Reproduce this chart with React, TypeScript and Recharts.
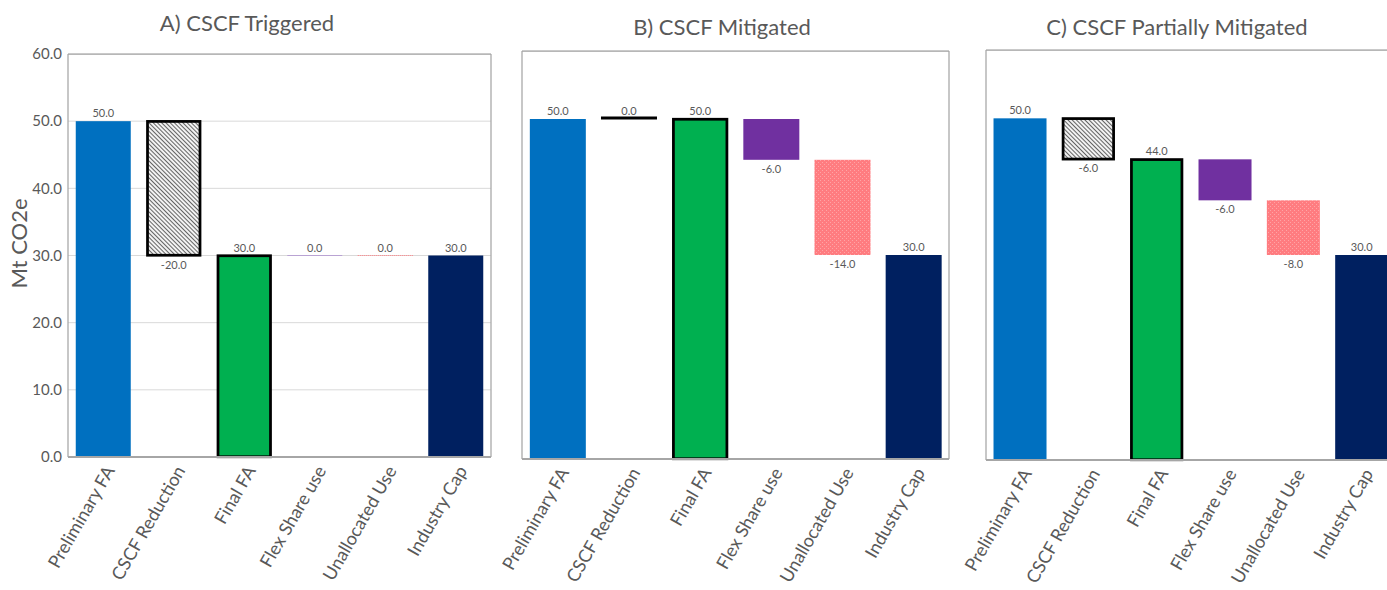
import { BarChart, Bar, XAxis, YAxis, CartesianGrid } from 'recharts';

// Waterfall steps shared by all three panels
const categories = [
  'Preliminary FA',
  'CSCF Reduction',
  'Final FA',
  'Flex Share use',
  'Unallocated Use',
  'Industry Cap',
];
// true = bar drawn from zero (a total), false = floating step
const isTotal = [true, false, true, false, false, true];

const triggeredValues = [50, -20, 30, 0, 0, 30];
const mitigatedValues = [50, 0, 50, -6, -14, 30];
const partialValues = [50, -6, 44, -6, -8, 30];

const yTicks = [0, 10, 20, 30, 40, 50, 60];

const TEXT = '#595959';
const FONT = 'Lato, "Open Sans", sans-serif';

interface BarStyle {
  fill: string; // colour or pattern key
  stroke?: string;
  zeroStroke: string;
  zeroWidth: number;
  zeroDash?: string;
}

const barStyles: Record<string, BarStyle> = {
  'Preliminary FA': { fill: '#0070C0', zeroStroke: '#0070C0', zeroWidth: 1 },
  'CSCF Reduction': { fill: 'hatch', stroke: '#000000', zeroStroke: '#000000', zeroWidth: 3 },
  'Final FA': { fill: '#00B050', stroke: '#000000', zeroStroke: '#000000', zeroWidth: 3 },
  'Flex Share use': { fill: '#7030A0', zeroStroke: '#B9A3D3', zeroWidth: 1 },
  'Unallocated Use': { fill: 'dots', zeroStroke: '#FF7C80', zeroWidth: 1, zeroDash: '1 1' },
  'Industry Cap': { fill: '#002060', zeroStroke: '#002060', zeroWidth: 1 },
};

interface Row {
  name: string;
  value: number;
  range: [number, number];
}

// turn deltas into [low, high] ranges for the floating bars
function buildRows(values: number[]): Row[] {
  let running = 0;
  return values.map((v, i) => {
    let range: [number, number];
    if (isTotal[i]) {
      running = v;
      range = [0, v];
    } else {
      const next = running + v;
      range = [Math.min(running, next), Math.max(running, next)];
      running = next;
    }
    return { name: categories[i], value: v, range };
  });
}

function makeShape(panelId: string) {
  return (props: any) => {
    const { x, width, payload } = props;
    const y = Math.min(props.y, props.y + props.height);
    const h = Math.abs(props.height);
    const st = barStyles[payload.name];
    const fill =
      st.fill === 'hatch' ? `url(#hatch-${panelId})` : st.fill === 'dots' ? `url(#dots-${panelId})` : st.fill;
    const label = payload.value.toFixed(1);
    const cx = x + width / 2;
    const labelY = payload.value < 0 ? y + h + 13 : y - 4;

    let mark;
    if (h < 0.5) {
      mark = (
        <line
          x1={x}
          x2={x + width}
          y1={y - st.zeroWidth / 2 + 0.5}
          y2={y - st.zeroWidth / 2 + 0.5}
          stroke={st.zeroStroke}
          strokeWidth={st.zeroWidth}
          strokeDasharray={st.zeroDash}
        />
      );
    } else if (st.stroke) {
      mark = (
        <rect
          x={x + 1.25}
          y={y + 0.25}
          width={width - 2.5}
          height={h - 0.5}
          fill={fill}
          stroke={st.stroke}
          strokeWidth={2.75}
        />
      );
    } else {
      mark = <rect x={x} y={y} width={width} height={h} fill={fill} />;
    }

    return (
      <g>
        {mark}
        <text x={cx} y={labelY} textAnchor="middle" fontSize={11} fill={TEXT} fontFamily={FONT}>
          {label}
        </text>
      </g>
    );
  };
}

const CategoryTick = ({ x, y, payload }: any) => {
  const ax = x + 6;
  const ay = y + 2;
  return (
    <text
      x={ax}
      y={ay}
      transform={`rotate(-60, ${ax}, ${ay})`}
      textAnchor="end"
      dominantBaseline="central"
      fontSize={18}
      fill={TEXT}
      fontFamily={FONT}
    >
      {payload.value}
    </text>
  );
};

interface PanelProps {
  id: string;
  values: number[];
  width: number;
  margin: { top: number; right: number; bottom: number; left: number };
  showYTicks: boolean;
}

function WaterfallPanel({ id, values, width, margin, showYTicks }: PanelProps) {
  const rows = buildRows(values);
  return (
    <BarChart width={width} height={590} data={rows} margin={margin} barCategoryGap="11%">
      <defs>
        <pattern
          id={`hatch-${id}`}
          patternUnits="userSpaceOnUse"
          width={3}
          height={3}
          patternTransform="rotate(-45)"
        >
          <rect width={3} height={3} fill="#F2F2F2" />
          <line x1={0} y1={0} x2={0} y2={3} stroke="#404040" strokeWidth={1.6} />
        </pattern>
        <pattern id={`dots-${id}`} patternUnits="userSpaceOnUse" width={4} height={4}>
          <rect width={4} height={4} fill="#FF7C80" />
          <rect x={0} y={0} width={1} height={1} fill="#FFA4A6" />
          <rect x={2} y={2} width={1} height={1} fill="#FFA4A6" />
        </pattern>
      </defs>
      <CartesianGrid vertical={false} stroke="#D9D9D9" xAxisId="bottom" yAxisId="left" />
      <XAxis
        xAxisId="bottom"
        dataKey="name"
        interval={0}
        height={125}
        tickLine={false}
        axisLine={{ stroke: '#A6A6A6', strokeWidth: 2 }}
        tick={<CategoryTick />}
      />
      <XAxis
        xAxisId="top"
        orientation="top"
        dataKey="name"
        height={1}
        tick={false}
        tickLine={false}
        axisLine={{ stroke: '#A6A6A6', strokeWidth: 1.25 }}
      />
      <YAxis
        yAxisId="left"
        domain={[0, 60]}
        ticks={yTicks}
        width={showYTicks ? 60 : 1}
        tick={showYTicks ? { fontSize: 15, fill: TEXT, fontFamily: FONT } : false}
        tickFormatter={(v: number) => v.toFixed(1)}
        tickLine={false}
        tickSize={4}
        axisLine={{ stroke: '#A6A6A6', strokeWidth: 1.25 }}
        label={
          showYTicks
            ? {
                content: (p: any) => {
                  const vb = p.viewBox;
                  const lx = vb.x + 10;
                  const ly = vb.y + vb.height / 2 - 12;
                  return (
                    <text
                      x={lx}
                      y={ly}
                      transform={`rotate(-90, ${lx}, ${ly})`}
                      textAnchor="middle"
                      dominantBaseline="central"
                      fontSize={22}
                      fill={TEXT}
                      fontFamily={FONT}
                    >
                      Mt CO2e
                    </text>
                  );
                },
              }
            : undefined
        }
      />
      <YAxis
        yAxisId="right"
        orientation="right"
        domain={[0, 60]}
        ticks={yTicks}
        width={1}
        tick={false}
        tickLine={false}
        axisLine={{ stroke: '#A6A6A6', strokeWidth: 1.25 }}
      />
      <Bar
        xAxisId="bottom"
        yAxisId="left"
        dataKey="range"
        shape={makeShape(id)}
        isAnimationActive={false}
      />
    </BarChart>
  );
}

const titleStyle = {
  position: 'absolute' as const,
  fontFamily: FONT,
  fontSize: 22,
  lineHeight: '26px',
  color: TEXT,
  textAlign: 'center' as const,
  whiteSpace: 'nowrap' as const,
};

export default function App() {
  return (
    <div
      style={{
        position: 'absolute',
        left: 0,
        top: 0,
        width: 1387,
        height: 590,
        overflow: 'hidden',
        background: '#ffffff',
      }}
    >
      <style>{'svg.recharts-surface { overflow: visible; }'}</style>
      <div style={{ position: 'absolute', left: 0, top: 0 }}>
        <WaterfallPanel
          id="a"
          values={triggeredValues}
          width={500}
          margin={{ top: 53, right: 8, bottom: 8, left: 8 }}
          showYTicks
        />
      </div>
      <div style={{ position: 'absolute', left: 500, top: 0 }}>
        <WaterfallPanel
          id="b"
          values={mitigatedValues}
          width={460}
          margin={{ top: 50, right: 10, bottom: 6, left: 21 }}
          showYTicks={false}
        />
      </div>
      <div style={{ position: 'absolute', left: 960, top: 0 }}>
        <WaterfallPanel
          id="c"
          values={partialValues}
          width={447}
          margin={{ top: 49, right: 10, bottom: 5, left: 25 }}
          showYTicks={false}
        />
      </div>
      <div style={{ ...titleStyle, left: 147, width: 200, top: 10 }}>A) CSCF Triggered</div>
      <div style={{ ...titleStyle, left: 622, width: 200, top: 14 }}>B) CSCF Mitigated</div>
      <div style={{ ...titleStyle, left: 1027, width: 300, top: 14 }}>C) CSCF Partially Mitigated</div>
    </div>
  );
}
